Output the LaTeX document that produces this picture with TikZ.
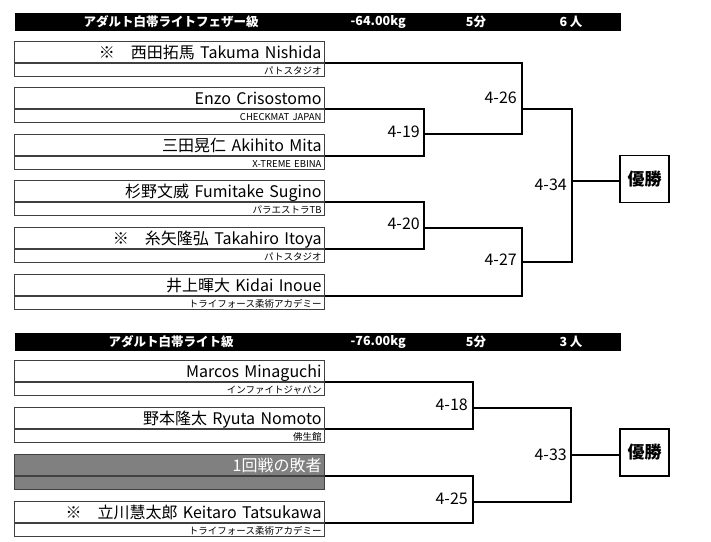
\documentclass[tikz,border=0pt]{standalone}
\usepackage{fontspec}
\setmainfont{Noto Sans CJK JP}
\usetikzlibrary{positioning}

\begin{document}
\begin{tikzpicture}[x=1pt, y=-1pt,
  bar/.style={fill=black, minimum width=606pt, minimum height=18pt, inner sep=0pt, anchor=north west},
  head/.style={text=white, font=\bfseries\fontsize{12.5}{14}\selectfont, inner sep=0pt},
  namebox/.style={draw=black!75, line width=1pt, fill=white, anchor=south east, minimum height=21pt,
    text width=304pt, inner xsep=3pt, inner ysep=0pt, align=right, text height=15pt, text depth=2pt,
    font=\fontsize{16}{18}\selectfont},
  clubbox/.style={draw=black!75, line width=1pt, fill=white, minimum height=13pt,
    text width=304pt, inner xsep=3pt, inner ysep=0pt, align=right, text height=9pt, text depth=1pt,
    font=\fontsize{9.5}{10}\selectfont},
  loser/.style={fill=black!50, text=white},
  bout/.style={line width=2.6pt},
  score/.style={font=\fontsize{16}{18}\selectfont, inner sep=0pt, anchor=east},
  champ/.style={draw, line width=1.6pt, minimum width=49pt, minimum height=47pt, inner sep=0pt,
    font=\bfseries\fontsize{17}{19}\selectfont}]
  \useasboundingbox (0,0) rectangle (711,541);

  % featherweight
  \node[bar] (bar1) at (15,13) {};
  \node[head] (t1) at (171,22) {アダルト白帯ライトフェザー級};
  \node[head, anchor=east] (kg1) at (406,22) {-64.00kg};
  \node[head] (min1) at (476,22) {5分};
  \node[head] (num1) at (571,22) {6 人};

  \node[namebox] (n1) at (325,63) {※　西田拓馬 Takuma Nishida};
  \node[clubbox, below=0pt of n1] (c1) {パトスタジオ};
  \node[namebox] (n2) at (325,109) {Enzo Crisostomo};
  \node[clubbox, below=0pt of n2] (c2) {CHECKMAT JAPAN};
  \node[namebox] (n3) at (325,156) {三田晃仁 Akihito Mita};
  \node[clubbox, below=0pt of n3] (c3) {X-TREME EBINA};
  \node[namebox] (n4) at (325,202) {杉野文威 Fumitake Sugino};
  \node[clubbox, below=0pt of n4] (c4) {パラエストラTB};
  \node[namebox] (n5) at (325,249) {※　糸矢隆弘 Takahiro Itoya};
  \node[clubbox, below=0pt of n5] (c5) {パトスタジオ};
  \node[namebox] (n6) at (325,296) {井上暉大 Kidai Inoue};
  \node[clubbox, below=0pt of n6] (c6) {トライフォース柔術アカデミー};

  \coordinate (j19) at (424,134);
  \coordinate (j20) at (424,228);
  \coordinate (j26) at (522,109);
  \coordinate (j27) at (522,262);
  \coordinate (j34) at (572,181);
  \node[champ] (w1) at (644.5,179) {優勝};

  \draw[bout] (n2.south east) -| (j19) |- (n3.south east);
  \draw[bout] (n4.south east) -| (j20) |- (n5.south east);
  \draw[bout] (n1.south east) -| (j26) |- (j19);
  \draw[bout] (j20) -| (j27) |- (n6.south east);
  \draw[bout] (j26) -| (j34) |- (j27);
  \draw[bout] (j34) -- (j34 -| w1.west);

  \node[score] (s26) at (517,98) {4-26};
  \node[score] (s19) at (420,132) {4-19};
  \node[score] (s34) at (567,185) {4-34};
  \node[score] (s20) at (420,224) {4-20};
  \node[score] (s27) at (517,260) {4-27};

  % lightweight
  \node[bar] (bar2) at (15,332.5) {};
  \node[head] (t2) at (171,341.5) {アダルト白帯ライト級};
  \node[head, anchor=east] (kg2) at (406,341.5) {-76.00kg};
  \node[head] (min2) at (476,341.5) {5分};
  \node[head] (num2) at (571,341.5) {3 人};

  \node[namebox] (m1) at (325,382) {Marcos Minaguchi};
  \node[clubbox, below=0pt of m1] (d1) {インファイトジャパン};
  \node[namebox] (m2) at (325,429) {野本隆太 Ryuta Nomoto};
  \node[clubbox, below=0pt of m2] (d2) {佛生館};
  \node[namebox, loser] (m3) at (325,476) {1回戦の敗者};
  \node[clubbox, loser, below=0pt of m3] (d3) {};
  \node[namebox] (m4) at (325,523) {※　立川慧太郎 Keitaro Tatsukawa};
  \node[clubbox, below=0pt of m4] (d4) {トライフォース柔術アカデミー};

  \coordinate (k18) at (473,408);
  \coordinate (k25) at (473,502);
  \coordinate (k33) at (571,455);
  \node[champ] (w2) at (644.5,452.5) {優勝};

  \draw[bout] (m1.south east) -| (k18) |- (m2.south east);
  \draw[bout] (m3.south east) -| (k25) |- (m4.south east);
  \draw[bout] (k18) -| (k33) |- (k25);
  \draw[bout] (k33) -- (k33 -| w2.west);

  \node[score] (s18) at (468,405) {4-18};
  \node[score] (s25) at (468,499) {4-25};
  \node[score] (s33) at (567,455) {4-33};
\end{tikzpicture}
\end{document}
